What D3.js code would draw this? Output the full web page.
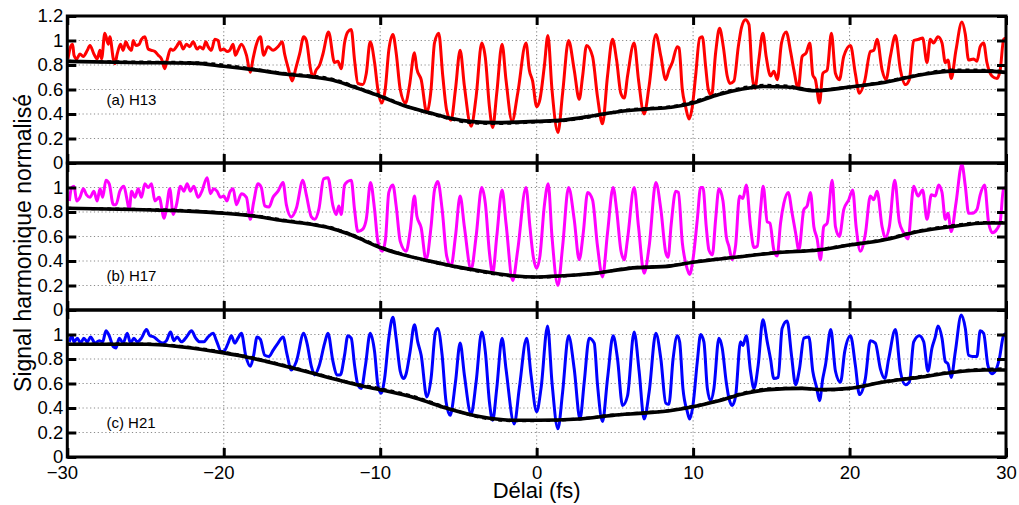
<!DOCTYPE html>
<html><head><meta charset="utf-8">
<script src="https://cdn.jsdelivr.net/npm/d3@7"></script>
<style>
body{margin:0;background:#fff}
svg{display:block}
text{font-family:"Liberation Sans",Arial,Helvetica,sans-serif;fill:#000}
</style>
</head><body>
<svg id="c" width="1019" height="505"></svg>
<script>
// ---------- data ----------
const xTicks = [-30,-20,-10,0,10,20,30];
const gridX = [-20,-10,0,10,20];
const yTicksTop = [0,0.2,0.4,0.6,0.8,1,1.2];
const yTicks = [0,0.2,0.4,0.6,0.8,1];
const gridY = [0.2,0.4,0.6,0.8,1];
const panelLabels = ["(a) H13","(b) H17","(c) H21"];
const labelPos = [[-27.5,0.47],[-27.5,0.24],[-27.5,0.24]];
const seriesColors = ["#ff0000","#ff00ff","#0000ff"];
const xLabel = "Délai (fs)";
const yLabel = "Signal harmonique normalisé";

// H13 measured signal [delay fs, normalised signal]
const h13 = [[-29.96,0.85],[-29.79,0.95],[-29.66,0.97],[-29.57,0.88],[-29.40,0.85],[-29.19,0.89],[-28.98,0.87],[-28.72,0.92],[-28.55,0.96],[-28.30,0.89],[-28.09,0.85],[-27.91,0.92],[-27.81,0.85],[-27.60,1.06],[-27.38,0.97],[-27.28,1.03],[-27.06,0.85],[-26.96,0.81],[-26.81,0.89],[-26.60,0.97],[-26.43,0.92],[-26.26,0.99],[-26.11,0.95],[-25.89,0.92],[-25.79,1.00],[-25.62,0.96],[-25.40,0.97],[-25.26,1.01],[-25.04,1.03],[-24.83,0.93],[-24.62,0.92],[-24.40,0.91],[-24.19,0.88],[-23.98,0.85],[-23.77,0.77],[-23.62,0.84],[-23.40,0.93],[-23.23,0.92],[-23.02,0.95],[-22.81,0.99],[-22.60,0.93],[-22.38,0.97],[-22.17,0.95],[-21.96,0.99],[-21.70,0.93],[-21.53,0.95],[-21.32,0.93],[-21.15,0.99],[-21.00,0.95],[-20.79,0.92],[-20.57,1.01],[-20.36,1.00],[-20.21,0.92],[-20.00,0.93],[-19.79,0.91],[-19.62,0.92],[-19.40,0.97],[-19.26,0.88],[-19.09,0.92],[-18.87,0.97],[-18.55,0.88],[-18.30,0.74],[-18.13,0.85],[-17.91,0.97],[-17.66,1.03],[-17.45,0.88],[-17.17,0.95],[-16.85,0.92],[-16.53,0.95],[-16.26,0.99],[-16.11,0.89],[-15.89,0.78],[-15.62,0.67],[-15.40,0.77],[-15.15,0.89],[-14.89,1.03],[-14.72,1.00],[-14.47,0.78],[-14.30,0.70],[-14.09,0.76],[-13.87,0.80],[-13.66,0.89],[-13.30,1.07],
[-12.92,0.82],[-12.70,0.83],[-12.49,0.77],[-12.28,0.98],[-12.07,1.07],[-11.85,1.09],[-11.64,0.84],[-11.43,0.65],[-11.11,0.64],[-10.89,0.73],[-10.64,0.99],[-10.36,0.82],[-10.15,0.60],[-9.90,0.49],[-9.68,0.60],[-9.45,0.92],[-9.19,1.05],[-8.98,0.90],[-8.72,0.60],[-8.38,0.49],[-8.13,0.63],[-7.81,0.90],[-7.66,0.77],[-7.38,0.68],[-7.02,0.41],[-6.75,0.60],[-6.53,0.98],[-6.26,1.06],[-6.00,0.71],[-5.75,0.43],[-5.47,0.35],[-5.19,0.60],[-4.89,0.92],[-4.62,0.63],[-4.19,0.30],[-3.87,0.54],[-3.51,0.98],[-3.28,0.86],[-3.02,0.46],[-2.81,0.29],[-2.55,0.57],[-2.21,0.97],[-1.96,0.68],[-1.57,0.34],[-1.21,0.57],[-0.68,0.98],[-0.47,0.76],[-0.26,0.67],[0.00,0.46],[0.21,0.52],[0.49,0.79],[0.72,1.04],[0.98,0.60],[1.36,0.25],[1.66,0.57],[2.04,1.00],[2.40,0.76],[2.72,0.52],[2.94,0.71],[3.19,0.96],[3.57,0.87],[3.89,0.54],[4.21,0.32],[4.53,0.71],[4.85,1.01],[5.11,0.84],[5.38,0.57],[5.60,0.53],[5.81,0.71],[6.23,0.98],[6.51,0.68],[6.87,0.40],[7.19,0.63],[7.62,1.05],[7.94,0.87],[8.25,0.68],
[8.46,0.76],[8.67,0.82],[8.99,0.95],[9.10,0.94],[9.31,0.60],[9.52,0.46],[9.74,0.36],[9.95,0.46],[10.16,0.71],[10.42,1.02],[10.59,1.03],[10.80,0.79],[10.97,0.60],[11.18,0.55],[11.44,0.90],[11.69,1.10],[11.93,0.95],[12.18,0.71],[12.35,0.65],[12.61,0.67],[12.89,0.95],[13.10,1.11],[13.35,1.17],[13.57,1.13],[13.78,0.71],[13.95,0.61],[14.20,0.84],[14.46,1.06],[14.67,0.87],[14.95,0.71],[15.16,0.75],[15.38,0.68],[15.65,0.98],[15.95,1.07],[16.23,0.91],[16.44,0.76],[16.72,0.61],[16.97,0.87],[17.23,0.90],[17.46,0.98],[17.65,0.72],[17.82,0.68],[18.08,0.49],[18.29,0.73],[18.57,0.76],[18.84,1.06],[19.10,0.73],[19.35,0.68],[19.63,0.87],[20.06,0.96],[20.37,0.73],[20.63,0.57],[20.97,0.67],[21.33,0.91],[21.55,0.92],[21.76,1.01],[22.08,0.76],[22.33,0.68],[22.61,0.87],[22.93,1.04],[23.25,0.76],[23.57,0.64],[23.82,0.68],[24.10,1.00],[24.42,1.01],[24.67,1.02],[24.95,0.82],[25.16,1.01],[25.37,0.98],[25.65,1.03],[25.91,0.98],[26.12,0.82],[26.29,0.84],[26.50,0.69],[26.80,0.92],[27.18,1.15],[27.40,1.05],[27.61,0.84],[27.93,0.85],[28.14,0.83],[28.35,0.95],[28.57,0.98],[28.78,0.82],[29.10,0.71],[29.42,0.69],[29.63,0.76],[29.85,1.01],[30.00,1.02]];
const h13Env = [[-30,0.83],[-26,0.82],[-22,0.815],[-20,0.79],[-18,0.76],[-16,0.725],[-14.5,0.705],[-13,0.675],[-12,0.635],[-11,0.59],[-10,0.545],[-8.5,0.47],[-6.85,0.41],[-5.5,0.365],[-4.3,0.34],[-2.6,0.33],[0,0.34],[1.7,0.35],[3.8,0.39],[5.3,0.42],[7,0.44],[8.6,0.455],[10,0.49],[11.65,0.56],[13,0.60],[14.5,0.625],[16,0.62],[17.8,0.59],[20,0.62],[22.3,0.66],[24.6,0.72],[26.5,0.75],[28.7,0.75],[30,0.74]];
const h13Fit = [[-30,0.83],[-26,0.825],[-22,0.82],[-20,0.80],[-18,0.765],[-16,0.73],[-14.5,0.712],[-13,0.683],[-12,0.642],[-11,0.595],[-10,0.55],[-8.5,0.472],[-6.85,0.405],[-5.5,0.36],[-4.3,0.33],[-2.6,0.322],[0,0.335],[1.7,0.345],[3.8,0.385],[5.3,0.425],[7,0.445],[8.6,0.46],[10,0.50],[11.65,0.565],[13,0.61],[14.5,0.634],[16,0.628],[17.8,0.595],[20,0.62],[22.3,0.665],[24.6,0.725],[26.5,0.76],[28.7,0.757],[30,0.745]];

// H17
const h17 = [[-29.87,0.89],[-29.72,1.00],[-29.57,1.01],[-29.40,0.89],[-29.19,0.92],[-28.98,0.99],[-28.77,0.94],[-28.55,0.92],[-28.30,0.97],[-28.09,0.89],[-27.91,0.99],[-27.74,0.92],[-27.53,1.06],[-27.32,1.03],[-27.06,0.86],[-26.89,0.86],[-26.64,0.97],[-26.38,1.01],[-26.21,0.92],[-26.04,0.82],[-25.89,0.97],[-25.68,0.92],[-25.47,0.99],[-25.26,0.92],[-25.04,1.03],[-24.83,1.00],[-24.62,1.03],[-24.40,0.89],[-24.13,0.92],[-23.81,0.75],[-23.66,0.83],[-23.45,0.99],[-23.23,0.78],[-23.02,0.86],[-22.77,1.01],[-22.55,0.97],[-22.34,1.03],[-22.13,0.97],[-21.91,1.01],[-21.64,0.92],[-21.43,0.96],[-21.06,1.08],[-20.85,0.95],[-20.64,0.99],[-20.43,0.97],[-20.21,0.92],[-20.00,0.93],[-19.79,0.89],[-19.62,0.96],[-19.40,0.99],[-19.19,0.86],[-18.87,0.95],[-18.55,0.92],[-18.30,0.74],[-18.09,0.88],[-17.81,1.03],[-17.60,1.00],[-17.38,0.85],[-17.11,0.84],[-16.85,0.92],[-16.53,0.97],[-16.21,1.04],[-16.00,0.86],[-15.68,0.76],[-15.36,0.83],[-14.94,1.06],[-14.72,0.94],[-14.40,0.76],[-14.19,0.74],[-13.91,0.83],[-13.62,1.07],[-13.34,1.08],
[-13.02,0.85],[-12.81,0.78],[-12.64,0.85],[-12.49,0.78],[-12.28,1.02],[-12.07,1.05],[-11.85,1.06],[-11.64,0.82],[-11.43,0.64],[-11.11,0.66],[-10.89,0.74],[-10.62,1.04],[-10.36,0.82],[-10.15,0.56],[-9.87,0.48],[-9.66,0.58],[-9.45,0.96],[-9.19,1.02],[-8.98,0.85],[-8.72,0.56],[-8.34,0.48],[-8.09,0.64],[-7.81,0.93],[-7.66,0.77],[-7.38,0.67],[-7.07,0.41],[-6.75,0.68],[-6.53,0.98],[-6.32,1.05],[-6.04,0.82],[-5.75,0.44],[-5.47,0.36],[-5.19,0.60],[-4.89,0.93],[-4.62,0.68],[-4.19,0.33],[-3.87,0.60],[-3.51,1.00],[-3.28,0.87],[-3.02,0.47],[-2.81,0.30],[-2.55,0.60],[-2.21,0.98],[-1.96,0.71],[-1.53,0.24],[-1.21,0.49],[-0.68,1.00],[-0.43,0.68],[-0.21,0.43],[0.00,0.34],[0.21,0.44],[0.49,0.85],[0.74,1.03],[0.98,0.60],[1.36,0.20],[1.66,0.52],[2.04,1.00],[2.40,0.74],[2.72,0.41],[2.98,0.63],[3.26,0.96],[3.57,0.90],[3.89,0.52],[4.21,0.27],[4.53,0.63],[4.89,1.00],[5.11,0.82],[5.38,0.49],[5.60,0.41],[5.81,0.58],[6.23,1.00],[6.51,0.68],[6.87,0.30],[7.19,0.52],[7.62,1.04],[7.94,0.82],[8.25,0.47],[8.40,0.43],[8.60,0.70],
[8.89,0.97],[9.06,0.96],[9.31,0.55],[9.57,0.36],[9.78,0.29],[9.99,0.41],[10.27,0.74],[10.48,1.00],[10.63,1.00],[10.84,0.68],[11.01,0.49],[11.23,0.45],[11.44,0.74],[11.65,0.99],[11.91,0.89],[12.12,0.60],[12.29,0.52],[12.50,0.41],[12.72,0.53],[12.97,0.93],[13.18,0.91],[13.40,1.02],[13.67,0.68],[13.89,0.51],[14.10,0.52],[14.31,0.82],[14.48,1.01],[14.74,0.72],[14.91,0.71],[15.16,0.49],[15.37,0.44],[15.59,0.71],[15.80,0.87],[16.08,0.96],[16.33,0.79],[16.55,0.63],[16.76,0.49],[17.08,0.82],[17.29,0.85],[17.50,0.96],[17.72,0.68],[17.93,0.58],[18.14,0.41],[18.35,0.68],[18.57,0.71],[18.89,1.06],[19.10,0.68],[19.35,0.60],[19.63,0.82],[19.95,0.90],[20.20,0.98],[20.42,0.68],[20.69,0.48],[21.01,0.62],[21.33,0.93],[21.55,0.90],[21.76,0.97],[22.08,0.68],[22.29,0.59],[22.54,0.68],[22.89,1.06],[23.18,0.72],[23.46,0.63],[23.74,0.58],[24.10,1.01],[24.37,0.93],[24.67,0.98],[24.95,0.74],[25.23,0.94],[25.48,0.93],[25.69,1.02],[25.91,0.96],[26.12,0.74],[26.29,0.79],[26.50,0.64],[26.80,0.87],[27.18,1.19],[27.40,1.01],[27.61,0.79],[27.86,0.79],[28.14,0.82],[28.35,0.94],[28.63,1.02],[28.89,0.71],[29.14,0.63],[29.42,0.66],[29.63,0.72],[29.84,0.99],[30.00,1.00]];
const h17Env = [[-30,0.83],[-25.8,0.82],[-22,0.805],[-20,0.79],[-18,0.765],[-16.5,0.735],[-15,0.71],[-14,0.69],[-13.2,0.67],[-12.7,0.65],[-12,0.62],[-11,0.565],[-10,0.51],[-8.5,0.45],[-6.85,0.40],[-5,0.35],[-3.66,0.32],[-1.53,0.28],[0,0.27],[1.66,0.28],[3.8,0.30],[5.9,0.34],[8.6,0.36],[10,0.39],[12.7,0.43],[15.5,0.47],[18,0.49],[20,0.53],[22.1,0.57],[24.4,0.64],[26.5,0.68],[28.7,0.71],[30,0.71]];
const h17Fit = [[-30,0.83],[-25.8,0.822],[-22,0.81],[-20,0.793],[-18,0.77],[-16.5,0.74],[-15,0.715],[-14,0.695],[-13.2,0.675],[-12.7,0.655],[-12,0.625],[-11,0.57],[-10,0.515],[-8.5,0.452],[-6.85,0.398],[-5,0.347],[-3.66,0.315],[-1.53,0.276],[0,0.268],[1.66,0.278],[3.8,0.302],[5.9,0.342],[8.6,0.362],[10,0.392],[12.7,0.433],[15.5,0.472],[18,0.493],[20,0.532],[22.1,0.573],[24.4,0.645],[26.5,0.688],[28.7,0.715],[30,0.715]];

// H21
const h21 = [[-29.87,0.94],[-29.72,0.99],[-29.57,0.94],[-29.36,0.97],[-29.15,0.93],[-28.94,0.97],[-28.72,0.94],[-28.51,0.98],[-28.23,0.93],[-27.96,0.95],[-27.74,0.94],[-27.53,1.03],[-27.32,0.99],[-27.06,0.90],[-26.89,0.89],[-26.68,0.97],[-26.43,0.93],[-26.17,1.01],[-25.96,0.93],[-25.74,0.97],[-25.53,0.94],[-25.26,0.97],[-24.94,1.04],[-24.72,0.99],[-24.47,0.98],[-24.19,0.95],[-23.91,0.93],[-23.66,0.95],[-23.40,1.02],[-23.19,0.95],[-22.98,0.98],[-22.70,0.94],[-22.38,0.98],[-22.06,1.03],[-21.79,0.97],[-21.53,0.94],[-21.28,0.94],[-21.00,0.98],[-20.68,1.01],[-20.47,0.95],[-20.15,0.86],[-19.94,0.87],[-19.72,0.93],[-19.51,0.99],[-19.30,0.93],[-19.09,0.97],[-18.87,1.01],[-18.60,0.83],[-18.30,0.74],[-18.09,0.83],[-17.87,0.98],[-17.66,0.96],[-17.38,0.83],[-17.11,0.82],[-16.85,0.87],[-16.53,0.93],[-16.21,0.98],[-15.96,0.84],[-15.68,0.71],[-15.36,0.78],[-14.89,1.01],[-14.68,0.93],[-14.40,0.74],[-14.19,0.67],[-13.91,0.74],[-13.55,0.93],[-13.34,1.01],
[-13.02,0.78],[-12.77,0.67],[-12.55,0.67],[-12.28,0.83],[-12.07,0.99],[-11.85,0.97],[-11.64,0.75],[-11.43,0.59],[-11.21,0.56],[-10.94,0.75],[-10.64,1.01],[-10.36,0.86],[-10.15,0.59],[-9.94,0.52],[-9.72,0.64],[-9.45,0.97],[-9.19,1.14],[-8.98,0.97],[-8.72,0.70],[-8.51,0.64],[-8.34,0.68],[-8.09,0.86],[-7.81,1.08],[-7.60,0.94],[-7.38,0.83],[-7.02,0.49],[-6.75,0.64],[-6.47,1.02],[-6.32,1.05],[-6.04,0.83],[-5.79,0.45],[-5.53,0.34],[-5.19,0.61],[-4.89,0.93],[-4.62,0.67],[-4.19,0.35],[-3.87,0.61],[-3.51,1.02],[-3.28,0.86],[-3.02,0.45],[-2.81,0.30],[-2.55,0.56],[-2.21,0.97],[-1.96,0.72],[-1.43,0.27],[-1.11,0.56],[-0.64,0.97],[-0.36,0.67],[0.00,0.37],[0.28,0.56],[0.70,1.07],[0.98,0.61],[1.36,0.23],[1.66,0.53],[2.04,0.99],[2.40,0.72],[2.77,0.31],[3.04,0.61],[3.36,0.97],[3.68,0.93],[3.89,0.59],[4.21,0.29],[4.53,0.64],[4.89,0.99],[5.17,0.80],[5.49,0.42],[5.81,0.50],[6.23,1.02],[6.55,0.70],[6.87,0.31],[7.19,0.53],[7.62,1.01],[7.94,0.80],[8.25,0.44],[8.45,0.43],
[8.72,0.80],[8.99,0.99],[9.14,0.94],[9.35,0.56],[9.63,0.37],[9.78,0.31],[9.99,0.42],[10.27,0.78],[10.48,1.00],[10.69,0.94],[10.91,0.56],[11.12,0.46],[11.33,0.56],[11.65,0.97],[11.86,0.89],[12.12,0.61],[12.29,0.48],[12.50,0.42],[12.72,0.50],[13.03,0.94],[13.18,0.91],[13.40,0.99],[13.67,0.70],[13.89,0.56],[14.16,0.75],[14.46,1.12],[14.74,0.94],[14.95,0.80],[15.16,0.64],[15.44,0.65],[15.69,1.05],[16.01,1.11],[16.29,0.83],[16.55,0.59],[16.80,0.72],[17.08,0.97],[17.40,0.98],[17.65,0.70],[17.89,0.57],[18.08,0.46],[18.29,0.64],[18.46,0.75],[18.80,1.04],[19.10,0.70],[19.42,0.61],[19.69,0.86],[20.06,0.99],[20.37,0.75],[20.63,0.51],[21.01,0.64],[21.33,0.95],[21.65,0.93],[21.97,0.72],[22.25,0.64],[22.50,0.80],[22.93,1.04],[23.25,0.70],[23.57,0.59],[23.82,0.61],[24.10,0.94],[24.46,0.99],[24.74,0.94],[25.01,0.70],[25.27,0.89],[25.48,0.98],[25.65,1.07],[25.91,0.97],[26.12,0.78],[26.29,0.76],[26.50,0.65],[26.76,0.86],[27.14,1.16],[27.40,1.05],[27.61,0.83],[27.86,0.82],[28.14,0.82],[28.35,1.03],[28.57,1.01],[28.84,0.75],[29.10,0.68],[29.35,0.71],[29.57,0.80],[29.84,0.99],[30.00,1.01]];
const h21Env = [[-30,0.92],[-24.9,0.92],[-22.8,0.90],[-20,0.85],[-18.5,0.815],[-17.3,0.78],[-15.1,0.71],[-13.2,0.645],[-11.5,0.59],[-10,0.55],[-7.7,0.48],[-5.8,0.40],[-3.66,0.33],[-1.53,0.30],[0,0.30],[2.7,0.31],[4.85,0.34],[6.98,0.36],[8.6,0.38],[9.95,0.41],[11.65,0.46],[13.36,0.52],[14.85,0.55],[16.97,0.56],[18.25,0.55],[19.95,0.56],[22.08,0.61],[24.42,0.65],[26.55,0.69],[28.67,0.71],[30,0.71]];
const h21Fit = [[-30,0.92],[-24.9,0.922],[-22.8,0.905],[-20,0.855],[-18.5,0.82],[-17.3,0.785],[-15.1,0.715],[-13.2,0.65],[-11.5,0.595],[-10,0.558],[-7.7,0.488],[-5.8,0.405],[-3.66,0.325],[-1.53,0.296],[0,0.297],[2.7,0.31],[4.85,0.342],[6.98,0.362],[8.6,0.382],[9.95,0.412],[11.65,0.462],[13.36,0.527],[14.85,0.557],[16.97,0.562],[18.25,0.547],[19.95,0.558],[22.08,0.612],[24.42,0.655],[26.55,0.695],[28.67,0.717],[30,0.72]];

const signals = [h13,h17,h21];
const envelopes = [h13Env,h17Env,h21Env];
const fits = [h13Fit,h17Fit,h21Fit];

// ---------- layout ----------
const left = 67.3, right = 1006, top0 = 16, ph = 147;
const svg = d3.select("#c");
const x = d3.scaleLinear().domain([-30,30]).range([left,right]);
const tickFont = 18.5;

signals.forEach((sig, i) => {
  const yTop = top0 + i*ph, yBot = yTop + ph;
  const y = d3.scaleLinear().domain([0,1.2]).range([yBot,yTop]);
  const g = svg.append("g");

  // dotted grid
  g.append("g").selectAll("line").data(gridY).join("line")
    .attr("x1", left).attr("x2", right)
    .attr("y1", d=>y(d)).attr("y2", d=>y(d))
    .attr("stroke","#8a8a8a").attr("stroke-width",1.1).attr("stroke-dasharray","1.2,2.6");
  g.append("g").selectAll("line").data(gridX).join("line")
    .attr("y1", yTop).attr("y2", yBot)
    .attr("x1", d=>x(d)).attr("x2", d=>x(d))
    .attr("stroke","#8a8a8a").attr("stroke-width",1.1).attr("stroke-dasharray","1.2,2.6");

  const line = d3.line().x(d=>x(d[0])).y(d=>y(d[1])).curve(d3.curveMonotoneX);

  g.append("path").datum(sig).attr("d", line)
    .attr("fill","none").attr("stroke",seriesColors[i]).attr("stroke-width",3)
    .attr("stroke-linejoin","round");
  g.append("path").datum(envelopes[i]).attr("d", line)
    .attr("fill","none").attr("stroke","#000").attr("stroke-width",3.6);
  g.append("path").datum(fits[i]).attr("d", line)
    .attr("fill","none").attr("stroke","#000").attr("stroke-width",3)
    .attr("stroke-dasharray","4,4");

  // axes (inward ticks on all sides)
  const yAx = d3.axisLeft(y).tickValues(i===0 ? yTicksTop : yTicks)
    .tickSize(-9).tickPadding(4).tickFormat(d3.format("~g"));
  const yAxR = d3.axisRight(y).tickValues(yTicksTop).tickSize(-9).tickFormat("");
  const xAxT = d3.axisTop(x).tickValues(xTicks).tickSize(-9).tickFormat("");
  const xAxB = d3.axisBottom(x).tickValues(xTicks).tickSize(-9).tickPadding(9)
    .tickFormat(i===2 ? d3.format("d") : "");

  const axes = [
    g.append("g").attr("transform",`translate(${left},0)`).call(yAx),
    g.append("g").attr("transform",`translate(${right},0)`).call(yAxR),
    g.append("g").attr("transform",`translate(0,${yTop})`).call(xAxT),
    g.append("g").attr("transform",`translate(0,${yBot})`).call(xAxB)
  ];
  axes.forEach(a => {
    a.select(".domain").remove();
    a.selectAll(".tick line").attr("stroke","#000").attr("stroke-width",3);
    a.selectAll(".tick text").attr("font-size",tickFont).attr("fill","#000")
      .attr("font-family",'"Liberation Sans",Arial,sans-serif');
  });
  // MATLAB-style: centre digits, minus hangs left
  axes[3].selectAll(".tick text").attr("dx", d => d < 0 ? "-0.29em" : 0);

  // box
  g.append("rect").attr("x",left).attr("y",yTop)
    .attr("width",right-left).attr("height",ph)
    .attr("fill","none").attr("stroke","#000").attr("stroke-width",3);

  // panel label
  g.append("text").attr("x", x(labelPos[i][0])).attr("y", y(labelPos[i][1]))
    .attr("font-size",15).text(panelLabels[i]);
});

// axis titles
svg.append("text").attr("x",(left+right)/2).attr("y",498)
  .attr("text-anchor","middle").attr("font-size",22).text(xLabel);
svg.append("text").attr("transform",`translate(31,243) rotate(-90)`)
  .attr("text-anchor","middle").attr("font-size",23).text(yLabel);
</script>
</body></html>
